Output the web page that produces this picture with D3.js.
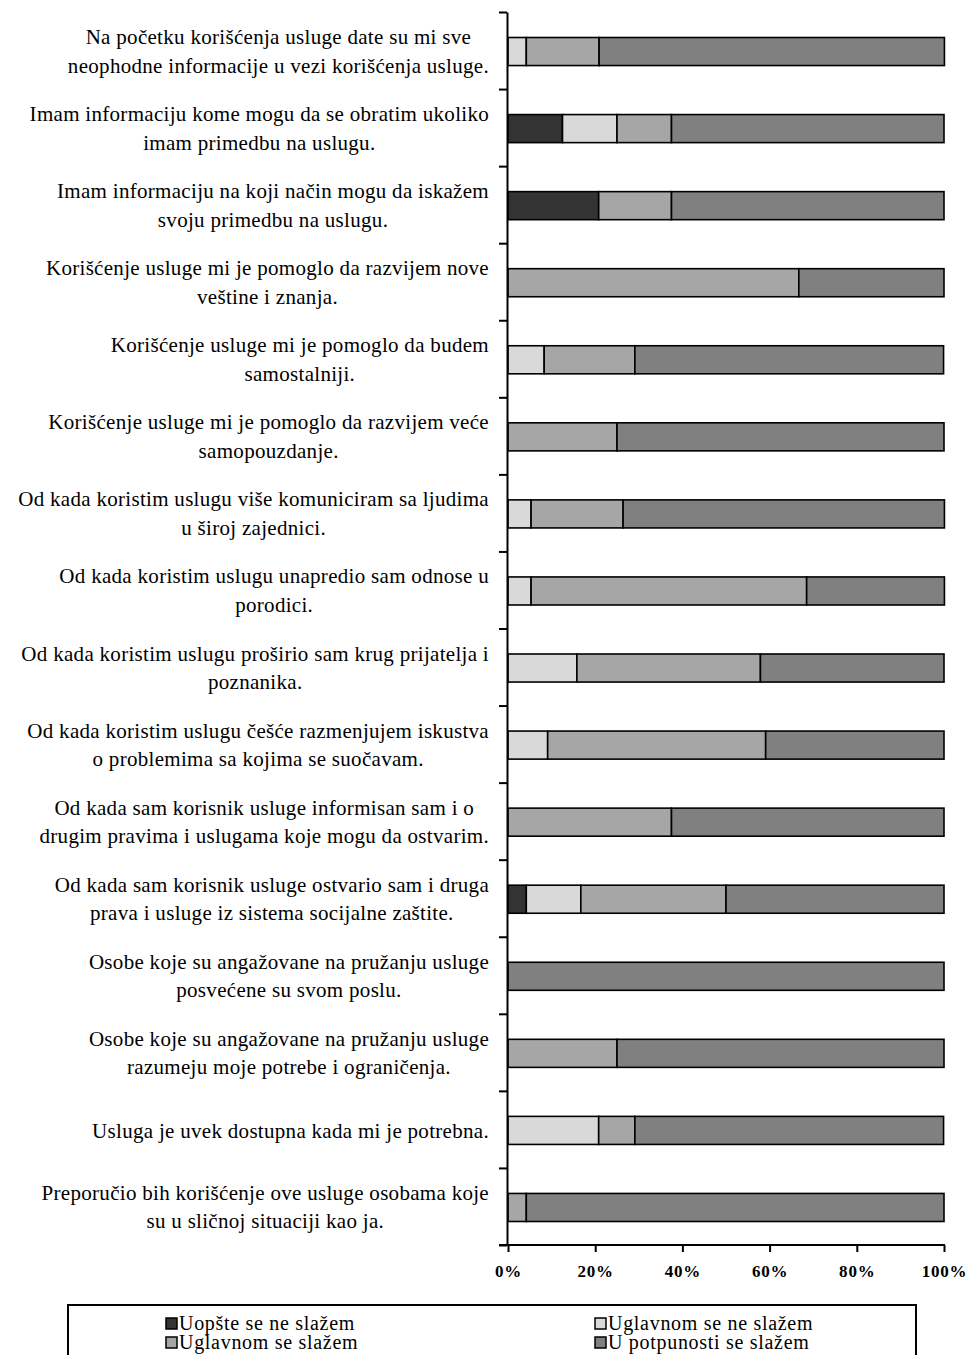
<!DOCTYPE html>
<html>
<head>
<meta charset="utf-8">
<script src="https://cdn.jsdelivr.net/npm/d3@7"></script>
<style>
  body { margin: 0; background: #fff; }
  svg { display: block; }
  .lbl { font-family: "Liberation Serif", "Times New Roman", serif; font-size: 21px; letter-spacing: 0.3px; fill: #000; }
  .xt text { font-family: "Liberation Serif", "Times New Roman", serif; font-size: 17px; font-weight: bold; letter-spacing: 0.8px; }
  .leg { font-family: "Liberation Serif", "Times New Roman", serif; font-size: 20px; letter-spacing: 0.7px; }
</style>
</head>
<body>
<div id="chart"></div>
<script>
"use strict";

// categories (line breaks as in the original chart)
var categories = [
  ["Na početku korišćenja usluge date su mi sve", "neophodne informacije u vezi korišćenja usluge."],
  ["Imam informaciju kome mogu da se obratim ukoliko", "imam primedbu na uslugu."],
  ["Imam informaciju na koji način mogu da iskažem", "svoju primedbu na uslugu."],
  ["Korišćenje usluge mi je pomoglo da razvijem nove", "veštine i znanja."],
  ["Korišćenje usluge mi je pomoglo da budem", "samostalniji."],
  ["Korišćenje usluge mi je pomoglo da razvijem veće", "samopouzdanje."],
  ["Od kada koristim uslugu više komuniciram sa ljudima", "u široj zajednici."],
  ["Od kada koristim uslugu unapredio sam odnose u", "porodici."],
  ["Od kada koristim uslugu proširio sam krug prijatelja i", "poznanika."],
  ["Od kada koristim uslugu češće razmenjujem iskustva", "o problemima sa kojima se suočavam."],
  ["Od kada sam korisnik usluge informisan sam i o", "drugim pravima i uslugama koje mogu da ostvarim."],
  ["Od kada sam korisnik usluge ostvario sam i druga", "prava i usluge iz sistema socijalne zaštite."],
  ["Osobe koje su angažovane na pružanju usluge", "posvećene su svom poslu."],
  ["Osobe koje su angažovane na pružanju usluge", "razumeju moje potrebe i ograničenja."],
  ["Usluga je uvek dostupna kada mi je potrebna."],
  ["Preporučio bih korišćenje ove usluge osobama koje", "su u sličnoj situaciji kao ja."]
];

var seriesNames = ["Uopšte se ne slažem", "Uglavnom se ne slažem", "Uglavnom se slažem", "U potpunosti se slažem"];
var seriesColors = ["#333333", "#d9d9d9", "#a6a6a6", "#808080"];

// percentages per category, one array per series
var uopste      = [0,    12.5, 20.8, 0,    0,    0,  0,    0,    0,    0,    0,    4.2,  0,   0,  0,    0];
var uglavnomNe  = [4.2,  12.5, 0,    0,    8.3,  0,  5.3,  5.3,  15.8, 9.1,  0,    12.5, 0,   0,  20.8, 0];
var uglavnomDa  = [16.7, 12.5, 16.7, 66.7, 20.8, 25, 21.1, 63.2, 42.1, 50,   37.5, 33.3, 0,   25, 8.3,  4.2];
var uPotpunosti = [79.2, 62.5, 62.5, 33.3, 70.8, 75, 73.7, 31.6, 42.1, 40.9, 62.5, 50,   100, 75, 70.8, 95.8];

var xTicks = [0, 20, 40, 60, 80, 100];

var width = 971, height = 1355;
var x0 = 508, x1 = 944, yTop = 12, yBot = 1245;

var rows = categories.map(function(c, i) {
  return { id: i, s0: uopste[i], s1: uglavnomNe[i], s2: uglavnomDa[i], s3: uPotpunosti[i] };
});

var svg = d3.select("#chart").append("svg")
  .attr("width", width)
  .attr("height", height);

var x = d3.scaleLinear().domain([0, 100]).range([x0, x1]);
var y = d3.scaleBand()
  .domain(d3.range(categories.length))
  .range([yTop + 1, yBot + 1])
  .paddingInner(0.636)
  .paddingOuter(0.318);
var yIdx = d3.scaleLinear().domain([0, categories.length]).range([yTop, yBot]);

var stack = d3.stack().keys(["s0", "s1", "s2", "s3"]);
var layers = stack(rows);

// bars
svg.append("g").selectAll("g")
  .data(layers)
  .enter().append("g")
    .attr("fill", function(d, i) { return seriesColors[i]; })
  .selectAll("rect")
  .data(function(d) { return d.filter(function(v) { return v[1] - v[0] > 0; }); })
  .enter().append("rect")
    .attr("x", function(d) { return x(d[0]); })
    .attr("width", function(d) { return x(d[1]) - x(d[0]); })
    .attr("y", function(d) { return y(d.data.id); })
    .attr("height", y.bandwidth())
    .attr("stroke", "#000")
    .attr("stroke-width", 1.6);

// y axis (ticks on category boundaries)
var yAxis = svg.append("g")
  .attr("transform", "translate(" + (x0 - 1) + ",0)")
  .call(d3.axisLeft(yIdx).tickValues(d3.range(categories.length + 1)).tickSize(8).tickSizeOuter(0).tickFormat(""));
yAxis.select(".domain").attr("stroke-width", 2);
yAxis.selectAll(".tick line").attr("stroke-width", 2);

// x axis
var xAxis = svg.append("g")
  .attr("class", "xt")
  .attr("transform", "translate(0," + yBot + ")")
  .call(d3.axisBottom(x).tickValues(xTicks).tickSize(7).tickSizeOuter(0).tickPadding(13)
    .tickFormat(function(d) { return d + "%"; }));
xAxis.select(".domain").attr("stroke-width", 2).attr("d", "M" + (x0 - 9) + ",0H" + (x1 + 1));
xAxis.selectAll(".tick line").attr("stroke-width", 2);
xAxis.selectAll(".tick text").attr("fill", "#000");

// category labels: lines centered inside a right-aligned block
var labelRight = 489;
var lg = svg.append("g").selectAll("g")
  .data(categories)
  .enter().append("g");

lg.each(function(lines, i) {
  var g = d3.select(this);
  var cy = y(i) + y.bandwidth() / 2;
  var base = lines.length === 1 ? [cy + 8] : [cy - 7.5, cy + 21];
  var ts = g.selectAll("text").data(lines).enter().append("text")
    .attr("class", "lbl")
    .attr("y", function(d, k) { return base[k]; })
    .text(function(d) { return d; });
  var w = 0;
  ts.each(function() { w = Math.max(w, this.getComputedTextLength()); });
  ts.attr("text-anchor", "middle").attr("x", labelRight - w / 2);
});

// legend
var legend = svg.append("g");
legend.append("rect")
  .attr("x", 68).attr("y", 1305)
  .attr("width", 848).attr("height", 60)
  .attr("fill", "none").attr("stroke", "#000").attr("stroke-width", 2);

var legX = [166, 595], legY = [1330, 1349];
var items = legend.selectAll("g.item")
  .data(seriesNames)
  .enter().append("g")
    .attr("class", "item")
    .attr("transform", function(d, i) { return "translate(" + legX[i % 2] + "," + legY[Math.floor(i / 2)] + ")"; });
items.append("rect")
  .attr("x", 0).attr("y", -12)
  .attr("width", 11).attr("height", 11)
  .attr("fill", function(d, i) { return seriesColors[i]; })
  .attr("stroke", "#000").attr("stroke-width", 1.5);
items.append("text")
  .attr("class", "leg")
  .attr("x", 13)
  .attr("y", 0)
  .text(function(d) { return d; });
</script>
</body>
</html>
